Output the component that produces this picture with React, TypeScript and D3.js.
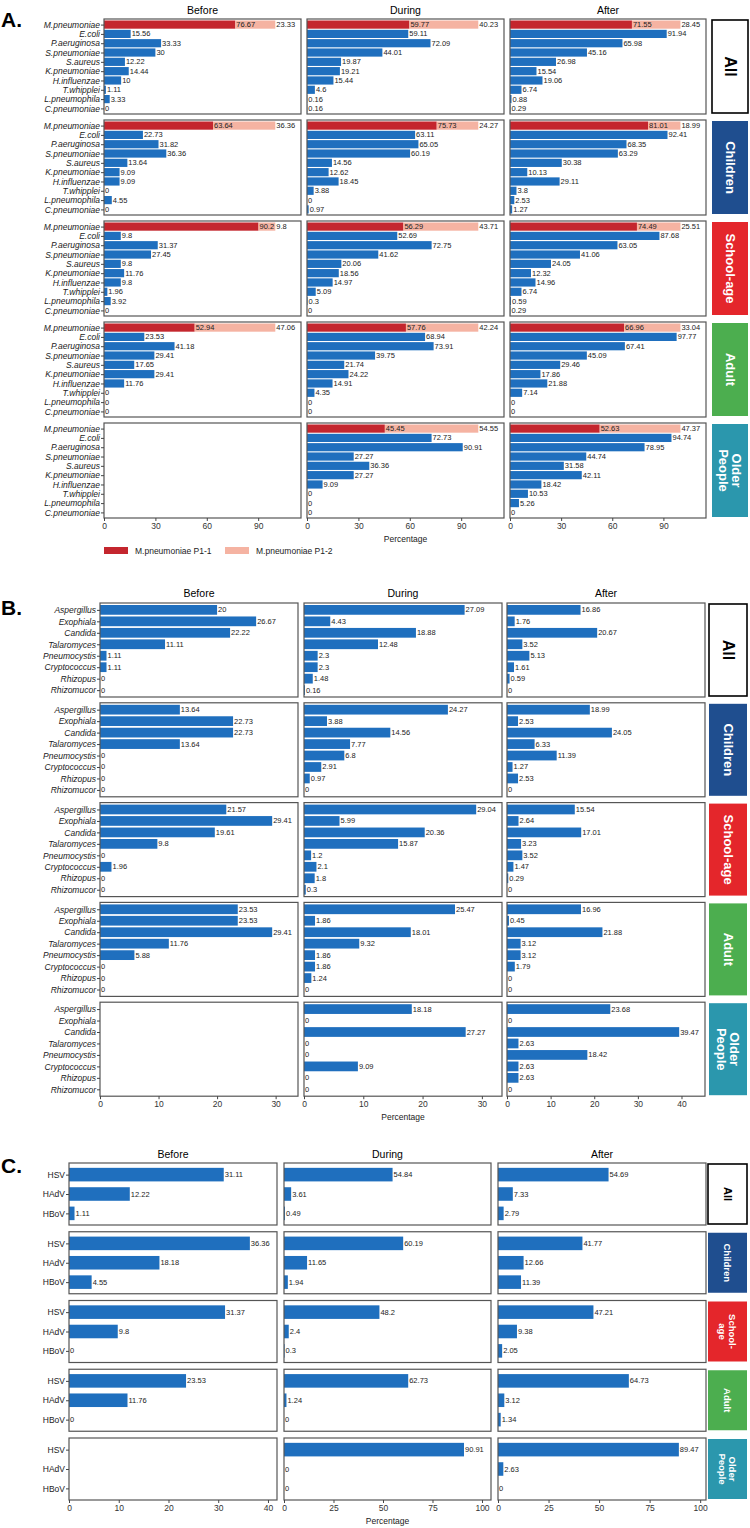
import * as React from "react"
import * as d3 from "d3"

const periods = ["Before", "During", "After"]
const groups = ["All", "Children", "School-age", "Adult", "Older People"]
const stripFill = ["#ffffff", "#1f4e8f", "#e4262b", "#4cae4f", "#2b97ad"]
const stripText = ["#000000", "#ffffff", "#ffffff", "#ffffff", "#ffffff"]

// ---- A: bacteria ----
const bacteria = [
  "M.pneumoniae",
  "E.coli",
  "P.aeruginosa",
  "S.pneumoniae",
  "S.aureus",
  "K.pneumoniae",
  "H.influenzae",
  "T.whipplei",
  "L.pneumophila",
  "C.pneumoniae",
]
// group -> period
const mpP11 = [
  [76.67, 59.77, 71.55],
  [63.64, 75.73, 81.01],
  [90.2, 56.29, 74.49],
  [52.94, 57.76, 66.96],
  [null, 45.45, 52.63],
]
const mpP12 = [
  [23.33, 40.23, 28.45],
  [36.36, 24.27, 18.99],
  [9.8, 43.71, 25.51],
  [47.06, 42.24, 33.04],
  [null, 54.55, 47.37],
]
// E.coli .. C.pneumoniae, per period
const bacteriaAll = [
  [15.56, 33.33, 30, 12.22, 14.44, 10, 1.11, 3.33, 0],
  [59.11, 72.09, 44.01, 19.87, 19.21, 15.44, 4.6, 0.16, 0.16],
  [91.94, 65.98, 45.16, 26.98, 15.54, 19.06, 6.74, 0.88, 0.29],
]
const bacteriaChildren = [
  [22.73, 31.82, 36.36, 13.64, 9.09, 9.09, 0, 4.55, 0],
  [63.11, 65.05, 60.19, 14.56, 12.62, 18.45, 3.88, 0, 0.97],
  [92.41, 68.35, 63.29, 30.38, 10.13, 29.11, 3.8, 2.53, 1.27],
]
const bacteriaSchool = [
  [9.8, 31.37, 27.45, 9.8, 11.76, 9.8, 1.96, 3.92, 0],
  [52.69, 72.75, 41.62, 20.06, 18.56, 14.97, 5.09, 0.3, 0],
  [87.68, 63.05, 41.06, 24.05, 12.32, 14.96, 6.74, 0.59, 0.29],
]
const bacteriaAdult = [
  [23.53, 41.18, 29.41, 17.65, 29.41, 11.76, 0, 0, 0],
  [68.94, 73.91, 39.75, 21.74, 24.22, 14.91, 4.35, 0, 0],
  [97.77, 67.41, 45.09, 29.46, 17.86, 21.88, 7.14, 0, 0],
]
const bacteriaOlder = [
  null,
  [72.73, 90.91, 27.27, 36.36, 27.27, 9.09, 0, 0, 0],
  [94.74, 78.95, 44.74, 31.58, 42.11, 18.42, 10.53, 5.26, 0],
]

// ---- B: fungi ----
const fungi = [
  "Aspergillus",
  "Exophiala",
  "Candida",
  "Talaromyces",
  "Pneumocystis",
  "Cryptococcus",
  "Rhizopus",
  "Rhizomucor",
]
const fungiAll = [
  [20, 26.67, 22.22, 11.11, 1.11, 1.11, 0, 0],
  [27.09, 4.43, 18.88, 12.48, 2.3, 2.3, 1.48, 0.16],
  [16.86, 1.76, 20.67, 3.52, 5.13, 1.61, 0.59, 0],
]
const fungiChildren = [
  [13.64, 22.73, 22.73, 13.64, 0, 0, 0, 0],
  [24.27, 3.88, 14.56, 7.77, 6.8, 2.91, 0.97, 0],
  [18.99, 2.53, 24.05, 6.33, 11.39, 1.27, 2.53, 0],
]
const fungiSchool = [
  [21.57, 29.41, 19.61, 9.8, 0, 1.96, 0, 0],
  [29.04, 5.99, 20.36, 15.87, 1.2, 2.1, 1.8, 0.3],
  [15.54, 2.64, 17.01, 3.23, 3.52, 1.47, 0.29, 0],
]
const fungiAdult = [
  [23.53, 23.53, 29.41, 11.76, 5.88, 0, 0, 0],
  [25.47, 1.86, 18.01, 9.32, 1.86, 1.86, 1.24, 0],
  [16.96, 0.45, 21.88, 3.12, 3.12, 1.79, 0, 0],
]
const fungiOlder = [
  null,
  [18.18, 0, 27.27, 0, 0, 9.09, 0, 0],
  [23.68, 0, 39.47, 2.63, 18.42, 2.63, 2.63, 0],
]

// ---- C: viruses ----
const viruses = ["HSV", "HAdV", "HBoV"]
const virusAll = [
  [31.11, 12.22, 1.11],
  [54.84, 3.61, 0.49],
  [54.69, 7.33, 2.79],
]
const virusChildren = [
  [36.36, 18.18, 4.55],
  [60.19, 11.65, 1.94],
  [41.77, 12.66, 11.39],
]
const virusSchool = [
  [31.37, 9.8, 0],
  [48.2, 2.4, 0.3],
  [47.21, 9.38, 2.05],
]
const virusAdult = [
  [23.53, 11.76, 0],
  [62.73, 1.24, 0],
  [64.73, 3.12, 1.34],
]
const virusOlder = [null, [90.91, 0, 0], [89.47, 2.63, 0]]

const ticksA = [[0, 30, 60, 90], [0, 30, 60, 90], [0, 30, 60, 90]]
const ticksB = [[0, 10, 20, 30], [0, 10, 20, 30], [0, 10, 20, 30, 40]]
const ticksC = [[0, 10, 20, 30, 40], [0, 25, 50, 75, 100], [0, 25, 50, 75, 100]]

const legendLabels = ["M.pneumoniae P1-1", "M.pneumoniae P1-2"]
const BLUE = "#1f6fbe"
const RED = "#c4262e"
const PINK = "#f5b3a2"
const FONT = "'Liberation Sans', Arial, sans-serif"
const NARROW = "'Liberation Sans Narrow', 'Liberation Sans', Arial, sans-serif"

type Section = {
  letter: string
  letterY: number
  titleY: number
  categories: string[]
  values: (number[] | null)[][]
  stacked?: { p1: (number | null)[][]; p2: (number | null)[][] }
  ticks: number[][]
  cols: [number, number][]
  strip: [number, number]
  top: number
  step: number
  h: number
  barWidth: number
  italic: boolean
  font: string
  labelSize: number
  valueSize: number
  stripSize: number
  allSize: number
  stripLines: string[][]
}

function drawSection(svg: d3.Selection<SVGSVGElement, unknown, null, undefined>, s: Section) {
  const g = svg.append("g").attr("font-family", s.font)

  g.append("text")
    .attr("x", 1)
    .attr("y", s.letterY)
    .attr("font-family", FONT)
    .attr("font-size", 21)
    .attr("font-weight", "bold")
    .text(s.letter)

  const rowTotal = (i: number, j: number) => {
    const vals = s.values[i][j]
    if (!vals) return 0
    let m = d3.max(vals) as number
    if (s.stacked) m = Math.max(m, (s.stacked.p1[i][j] || 0) + (s.stacked.p2[i][j] || 0))
    return m
  }

  const xScales = periods.map((_p, j) => {
    const colMax = d3.max(groups.map((_g, i) => rowTotal(i, j))) as number
    return d3.scaleLinear().domain([0, colMax * 1.15]).range(s.cols[j])
  })

  // column titles
  g.selectAll(".title")
    .data(periods)
    .join("text")
    .attr("class", "title")
    .attr("x", (_d, j) => (s.cols[j][0] + s.cols[j][1]) / 2)
    .attr("y", s.titleY)
    .attr("text-anchor", "middle")
    .attr("dominant-baseline", "central")
    .attr("font-family", s.font)
    .attr("font-size", 10.5)
    .text((d) => d)

  groups.forEach((_grp, i) => {
    const top = s.top + i * s.step
    const y = d3
      .scalePoint()
      .domain(s.categories)
      .range([top, top + s.h])
      .padding(0.6)
    const bh = y.step() * s.barWidth

    periods.forEach((_p, j) => {
      const x = xScales[j]
      const panel = g.append("g")
      const vals = s.values[i][j]
      // first category is drawn stacked in A
      const offset = s.stacked ? 1 : 0

      if (vals) {
        if (s.stacked) {
          const p1 = s.stacked.p1[i][j] as number
          const p2 = s.stacked.p2[i][j] as number
          const cy = y(s.categories[0]) as number
          const segs = [
            { x0: 0, x1: p1, c: RED, v: p1 },
            { x0: p1, x1: p1 + p2, c: PINK, v: p2 },
          ]
          panel
            .selectAll(".seg")
            .data(segs)
            .join("rect")
            .attr("x", (d) => x(d.x0))
            .attr("y", cy - bh / 2)
            .attr("width", (d) => x(d.x1) - x(d.x0))
            .attr("height", bh)
            .attr("fill", (d) => d.c)
          panel
            .selectAll(".segl")
            .data(segs)
            .join("text")
            .attr("x", (d) => x(d.x1) + 1)
            .attr("y", cy)
            .attr("dominant-baseline", "central")
            .attr("font-size", s.valueSize)
            .attr("fill", "#222")
            .text((d) => String(d.v))
        }
        const cats = s.categories.slice(offset)
        panel
          .selectAll(".bar")
          .data(vals)
          .join("rect")
          .attr("x", x(0))
          .attr("y", (_d, k) => (y(cats[k]) as number) - bh / 2)
          .attr("width", (d) => x(d) - x(0))
          .attr("height", bh)
          .attr("fill", BLUE)
        panel
          .selectAll(".val")
          .data(vals)
          .join("text")
          .attr("x", (d) => x(d) + 1)
          .attr("y", (_d, k) => y(cats[k]) as number)
          .attr("dominant-baseline", "central")
          .attr("font-size", s.valueSize)
          .attr("fill", "#222")
          .text((d) => String(d))
      }

      panel
        .append("rect")
        .attr("x", s.cols[j][0])
        .attr("y", top)
        .attr("width", s.cols[j][1] - s.cols[j][0])
        .attr("height", s.h)
        .attr("fill", "none")
        .attr("stroke", "#555")
        .attr("stroke-width", 1.2)

      if (j === 0) {
        const ax = panel
          .append("g")
          .attr("transform", `translate(${s.cols[0][0]},0)`)
          .call(d3.axisLeft(y).tickSize(3).tickPadding(1))
        ax.select(".domain").remove()
        ax.selectAll(".tick line").attr("stroke", "#444")
        ax.selectAll(".tick text")
          .attr("font-family", s.font)
          .attr("font-size", s.labelSize)
          .attr("font-style", s.italic ? "italic" : "normal")
          .attr("fill", "#222")
      }

      if (i === groups.length - 1) {
        const ax = panel
          .append("g")
          .attr("transform", `translate(0,${top + s.h})`)
          .call(d3.axisBottom(x).tickValues(s.ticks[j]).tickSize(3).tickPadding(2))
        ax.select(".domain").remove()
        ax.selectAll(".tick line").attr("stroke", "#444")
        ax.selectAll(".tick text")
          .attr("font-family", s.font)
          .attr("font-size", 8.5)
          .attr("fill", "#333")
      }
    })

    // strip
    const sx = s.strip[0]
    const sw = s.strip[1] - s.strip[0]
    g.append("rect")
      .attr("x", sx)
      .attr("y", top + 1)
      .attr("width", sw)
      .attr("height", s.h - 2)
      .attr("fill", stripFill[i])
      .attr("stroke", i === 0 ? "#000" : "none")
      .attr("stroke-width", 1.6)
    const lines = s.stripLines[i]
    const fs = i === 0 ? s.allSize : s.stripSize
    const st = g
      .append("text")
      .attr("transform", `translate(${sx + sw / 2},${top + s.h / 2}) rotate(90)`)
      .attr("text-anchor", "middle")
      .attr("font-family", FONT)
      .attr("font-weight", "bold")
      .attr("font-size", fs)
      .attr("fill", stripText[i])
    lines.forEach((ln, k) => {
      st.append("tspan")
        .attr("x", 0)
        .attr("y", (k - (lines.length - 1) / 2) * fs * 0.95)
        .attr("dominant-baseline", "central")
        .text(ln)
    })
  })

  // x title
  const last = s.top + (groups.length - 1) * s.step + s.h
  g.append("text")
    .attr("x", (s.cols[1][0] + s.cols[1][1]) / 2)
    .attr("y", last + 21)
    .attr("text-anchor", "middle")
    .attr("dominant-baseline", "central")
    .attr("font-size", 8.5)
    .attr("fill", "#222")
    .text("Percentage")
}

function render(svgRef: React.RefObject<SVGSVGElement | null>) {
  const svg = d3.select(svgRef.current as SVGSVGElement)
  svg.selectAll("*").remove()

  const stripLong = [["All"], ["Children"], ["School-age"], ["Adult"], ["Older", "People"]]

  drawSection(svg, {
    letter: "A.",
    letterY: 27,
    titleY: 10,
    categories: bacteria,
    values: [bacteriaAll, bacteriaChildren, bacteriaSchool, bacteriaAdult, bacteriaOlder],
    stacked: { p1: mpP11, p2: mpP12 },
    ticks: ticksA,
    cols: [
      [104, 301],
      [307, 504],
      [510, 706],
    ],
    strip: [712, 748],
    top: 19,
    step: 101,
    h: 95,
    barWidth: 0.88,
    italic: true,
    font: FONT,
    labelSize: 8.5,
    valueSize: 7.5,
    stripSize: 13,
    allSize: 16,
    stripLines: stripLong,
  })

  // legend for A
  const lg = svg.append("g").attr("font-family", FONT)
  lg.selectAll("rect")
    .data(legendLabels)
    .join("rect")
    .attr("x", (_d, i) => 104 + i * 121)
    .attr("y", 547)
    .attr("width", 24)
    .attr("height", 7)
    .attr("fill", (_d, i) => (i === 0 ? RED : PINK))
  lg.selectAll("text")
    .data(legendLabels)
    .join("text")
    .attr("x", (_d, i) => 135 + i * 121)
    .attr("y", 551)
    .attr("dominant-baseline", "central")
    .attr("font-size", 8.5)
    .attr("fill", "#222")
    .text((d) => d)

  drawSection(svg, {
    letter: "B.",
    letterY: 615,
    titleY: 593,
    categories: fungi,
    values: [fungiAll, fungiChildren, fungiSchool, fungiAdult, fungiOlder],
    ticks: ticksB,
    cols: [
      [100, 298],
      [304, 502],
      [507, 705],
    ],
    strip: [709, 747],
    top: 603,
    step: 99.8,
    h: 94,
    barWidth: 0.85,
    italic: true,
    font: FONT,
    labelSize: 8.5,
    valueSize: 7.5,
    stripSize: 13,
    allSize: 16,
    stripLines: stripLong,
  })

  drawSection(svg, {
    letter: "C.",
    letterY: 1173,
    titleY: 1154,
    categories: viruses,
    values: [virusAll, virusChildren, virusSchool, virusAdult, virusOlder],
    ticks: ticksC,
    cols: [
      [69, 277],
      [284, 491],
      [498, 706],
    ],
    strip: [708, 747],
    top: 1163,
    step: 68.75,
    h: 62,
    barWidth: 0.7,
    italic: false,
    font: NARROW,
    labelSize: 8.5,
    valueSize: 7.5,
    stripSize: 9.5,
    allSize: 11,
    stripLines: [["All"], ["Children"], ["School-", "age"], ["Adult"], ["Older", "People"]],
  })
}

export default function App(): React.JSX.Element {
  const svgRef = React.useRef<SVGSVGElement>(null)

  React.useEffect(() => {
    render(svgRef)
  }, [])

  return (
    <svg
      ref={svgRef}
      width={750}
      height={1528}
      style={{ position: "absolute", left: 0, top: 0, background: "#fff" }}
    />
  )
}
